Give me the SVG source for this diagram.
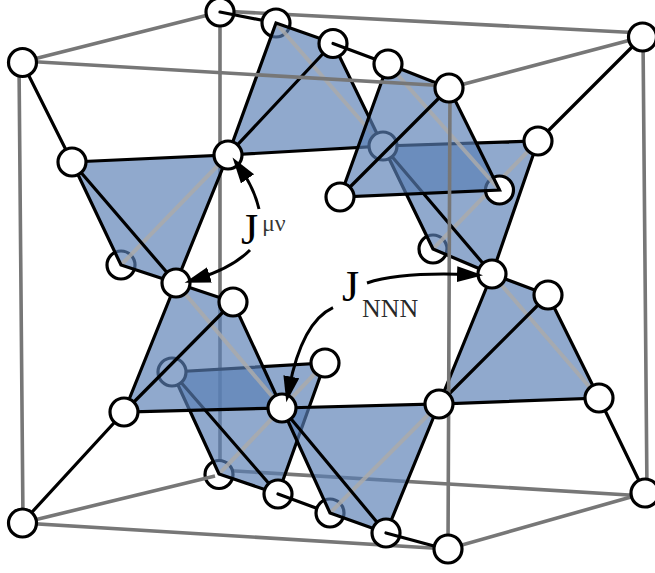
<svg xmlns="http://www.w3.org/2000/svg" width="655" height="573" viewBox="0 0 655 573">
<style>
.c{fill:none;stroke:#777;stroke-width:3.6}
.b{fill:none;stroke:#000;stroke-width:3.2;stroke-linecap:round;stroke-linejoin:miter}
.f{fill:#5a7fb5;fill-opacity:.67;stroke:none}
.g{fill:none;stroke:#aaa;stroke-width:4;stroke-opacity:.85}
.n{fill:#fff;stroke:#000;stroke-width:3.2}
.a{fill:none;stroke:#000;stroke-width:3;marker-end:url(#h)}
.t{font-family:"Liberation Serif",serif;fill:#000}
</style>
<defs><marker id="h" markerUnits="userSpaceOnUse" markerWidth="30" markerHeight="20" refX="12" refY="8" orient="auto"><path d="M0 0L26 8L0 16Z" fill="#000"/></marker></defs>
<g id="cube-back">
<path class="c" d="M22 62L220 12M220 11L642 33M220 12L220 474M219 470L645 496"/>
</g>
<g id="node-b"><circle class="n" cx="220" cy="12" r="14"/></g>
<g id="node-z"><circle class="n" cx="219" cy="474.500" r="14"/></g>
<g id="cube-back-2"><path class="c" d="M22 523L215 476"/></g>
<g id="node-j"><circle class="n" cx="121" cy="265" r="14"/></g>
<g id="node-q"><circle class="n" cx="433" cy="249" r="14"/></g>
<g id="node-ab"><circle class="n" cx="330" cy="513" r="14"/></g>
<g id="connectors-1">
<path class="b" d="M220 12L276 23"/>
</g>
<g id="node-c"><circle class="n" cx="276" cy="23" r="14"/></g>
<g id="tetra-1">
<path class="f" d="M72 162L228 155L176 283L121 265Z"/>
<path class="g" d="M121 265L228 155"/>
<path class="b" d="M72 162L228 155L176 283L121 265L72 162L176 283"/>
</g>
<g id="tetra-4">
<path class="f" d="M383 146L538 141L492 274L433 249Z"/>
<path class="g" d="M433 249L538 141"/>
<path class="b" d="M383 146L538 141L492 274L433 249L383 146L492 274"/>
</g>
<g id="tetra-2">
<path class="f" d="M228 155L276 23L333 43L383 146Z"/>
<path class="g" d="M276 23L383 146"/>
<path class="b" d="M228 155L276 23L333 43L383 146L228 155L333 43"/>
</g>
<g id="node-m"><circle class="n" cx="383" cy="146" r="14"/></g>
<g id="node-o"><circle class="n" cx="499.500" cy="190" r="14"/></g>
<g id="node-d"><circle class="n" cx="333" cy="43.500" r="14"/></g>
<g id="connectors-2"><path class="b" d="M333 43.500L388 64"/></g>
<g id="tetra-3">
<path class="f" d="M388 64L449 88L499.500 190L340 197Z"/>
<path class="g" d="M388 64L499.500 190"/>
<path class="b" d="M388 64L449 88L499.500 190L340 197L388 64M340 197L449 88"/>
</g>
<g id="tetra-6">
<path class="f" d="M172 372L325 363L278 494L219 474Z"/>
<path class="g" d="M219 474L325 363"/>
<path class="b" d="M172 372L325 363L278 494L219 474L172 372L278 494"/>
</g>
<g id="node-t"><circle class="n" cx="172" cy="372" r="14"/></g>
<g id="tetra-5">
<path class="f" d="M176 283L233 302L282 408L124 412Z"/>
<path class="g" d="M176 283L282 408"/>
<path class="b" d="M176 283L233 302L282 408L124 412L176 283M124 412L233 302"/>
</g>
<g id="tetra-7">
<path class="f" d="M282 408L439 404L386 533L330 513Z"/>
<path class="g" d="M330 513L439 404"/>
<path class="b" d="M282 408L439 404L386 533L330 513L282 408L386 533"/>
</g>
<g id="tetra-8">
<path class="f" d="M492 274L548 295L599 398L439 404Z"/>
<path class="g" d="M492 274L599 398"/>
<path class="b" d="M492 274L548 295L599 398L439 404L492 274M439 404L548 295"/>
</g>
<g id="cube-front">
<path class="c" d="M19 62L23 523L448 549L645 493M642 37L449 88M22 61L449 86M643 37L647 493M450 88L448 549"/>
</g>
<g id="connectors-3">
<path class="b" d="M22 62L72 162M642 37L538 141M124 412L22 523M599 398L645 493"/>
</g>
<g id="node-a"><circle class="n" cx="22.500" cy="62.500" r="14"/></g>
<g id="node-e"><circle class="n" cx="388" cy="64" r="14"/></g>
<g id="node-f"><circle class="n" cx="449" cy="88" r="14"/></g>
<g id="node-g"><circle class="n" cx="642.500" cy="37" r="14"/></g>
<g id="node-h"><circle class="n" cx="72" cy="162" r="14"/></g>
<g id="node-i"><circle class="n" cx="228" cy="155" r="14"/></g>
<g id="node-k"><circle class="n" cx="176" cy="283" r="14"/></g>
<g id="node-l"><circle class="n" cx="233" cy="302" r="14"/></g>
<g id="node-n"><circle class="n" cx="340" cy="197" r="14"/></g>
<g id="node-p"><circle class="n" cx="538" cy="141" r="14"/></g>
<g id="node-r"><circle class="n" cx="492" cy="274" r="14"/></g>
<g id="node-s"><circle class="n" cx="548" cy="295" r="14"/></g>
<g id="node-u"><circle class="n" cx="124" cy="412" r="14"/></g>
<g id="node-v"><circle class="n" cx="325" cy="363" r="14"/></g>
<g id="node-w"><circle class="n" cx="282" cy="408" r="14"/></g>
<g id="node-x"><circle class="n" cx="439" cy="404" r="14"/></g>
<g id="node-y"><circle class="n" cx="599" cy="398" r="14"/></g>
<g id="node-aa"><circle class="n" cx="278" cy="494" r="14"/></g>
<g id="node-ac"><circle class="n" cx="386" cy="533" r="14"/></g>
<g id="node-ad"><circle class="n" cx="448" cy="549" r="14"/></g>
<g id="node-ae"><circle class="n" cx="645" cy="493" r="14"/></g>
<g id="node-af"><circle class="n" cx="22.500" cy="523" r="14"/></g>
<g id="connectors-4">
<path class="b" d="M278 494L316 508M386 533L434 546"/>
<path class="a" d="M259 209Q254 188 240.600 169"/>
<path class="a" d="M250 250Q232 268 198 278.500"/>
<path class="a" d="M367 283Q400 272 469 274.600"/>
<path class="a" d="M333 307.700Q302 322 289 388.600"/>
</g>
<text class="t" x="241" y="244" font-size="44">J</text>
<text class="t" x="262" y="231" font-size="24" fill-opacity=".8">μν</text>
<text class="t" x="342" y="301" font-size="44">J</text>
<text class="t" x="362" y="317" font-size="26" fill-opacity=".85">NNN</text>
</svg>
